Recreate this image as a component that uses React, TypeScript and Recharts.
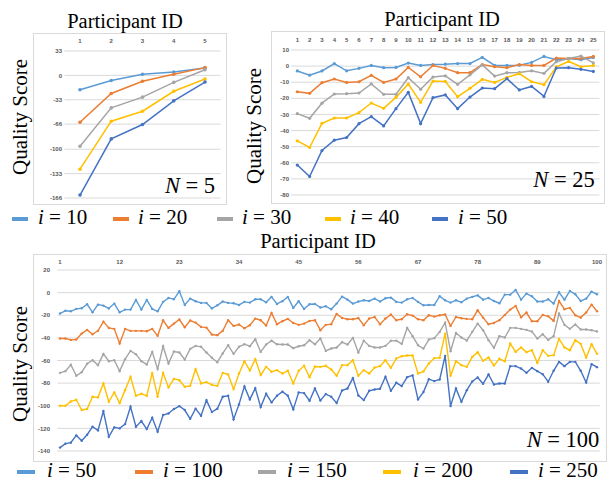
import React from 'react';
import { CartesianGrid, Line, LineChart, XAxis, YAxis } from 'recharts';

// Excel office palette, one colour per iteration count
const COLORS = ['#5B9BD5', '#ED7D31', '#A5A5A5', '#FFC000', '#4472C4'];
const SERIF = '"Liberation Serif", "DejaVu Serif", serif';
const SANS = '"Liberation Sans", Arial, sans-serif';

// ---- N = 5 ----
const n5Ids = [1, 2, 3, 4, 5];
const n5I10 = [-19.5, -7, 1.5, 4.5, 10];
const n5I20 = [-63.5, -24.5, -8, 1.5, 10.5];
const n5I30 = [-96, -44, -29.5, -9.5, 7.7];
const n5I40 = [-127, -62, -48.5, -21.5, -5];
const n5I50 = [-162, -86, -66.5, -34.5, -9];
const n5YTicks = [33, 0, -33, -66, -100, -133, -166];

// ---- N = 25 ----
const n25Ids = Array.from({ length: 25 }, (_, k) => k + 1);
const n25I10 = [-3, -5.6, -3, 1.6, -2.9, -1.4, 0.4, -1, -0.8, 1.9, 0.4, 1, 1.2, 1.6, 1.6, 5.4, 0.4, 0.4, 0.6, 2.3, 6, 4, 4.7, 4, 5.4];
const n25I20 = [-15.9, -16.9, -10.3, -8, -10.1, -9.7, -5.8, -10.1, -8, -0.8, -6.6, 0.4, -1.4, -4.1, -4.1, 1, -0.4, -1, 1, 0.4, 0.4, 5, 4.7, 4.7, 6];
const n25I30 = [-29.5, -32.4, -23, -17.3, -17.1, -16.7, -11, -17.5, -17.5, -7.2, -14.4, -6.8, -6, -11.3, -5.4, 0.8, -6.2, -4.1, -3.9, -2.9, -4.5, 2.7, 4.7, 6.2, 2];
const n25I40 = [-46.4, -50.5, -35.5, -32.2, -32.2, -28.9, -22.9, -26.2, -19.4, -11.1, -22.5, -9.3, -9.5, -19, -13.8, -8.2, -10.1, -7, -4.7, -9.7, -11.5, -0.4, 2.9, -0.4, 0.4];
const n25I50 = [-61.4, -68.5, -52.4, -46, -44.3, -35.7, -31.3, -37.1, -26.4, -16.3, -35.7, -19.6, -17.9, -26.4, -19.2, -13.6, -14, -7.8, -14.8, -12.6, -18.8, -1.2, -1, -2, -3.3];
const n25YTicks = [10, 0, -10, -20, -30, -40, -50, -60, -70, -80];

// ---- N = 100 ----
const n100Ids = Array.from({ length: 100 }, (_, k) => k + 1);
const n100XTicks = [1, 12, 23, 34, 45, 56, 67, 78, 89, 100];
const n100I50 = [
  -18.5, -16, -16.5, -14.4, -13.8, -10.3, -17.4, -10.6, -11.5, -14,
  -9.7, -17.4, -15, -15, -6.5, -15, -6.5, -14.4, -16.5, -8.2,
  -4.7, -5.9, 1.2, -10.9, -5.3, -7.6, -9.1, -9.1, -14, -11.2,
  -7.9, -9.1, -9.4, -10.9, -8.2, -8.8, -5.9, -5.9, -8.5, -3.8,
  -10, -7.6, -3.8, -13.5, -7.6, -14.4, -10.3, -10, -13.2, -12,
  -14.7, -9.7, -3.5, -6.2, -9.7, -7.9, -6.8, -7.4, -5.3, -7.9,
  -5, -4.4, -8.2, -8.8, -5.9, -4.7, -8.2, -11.2, -10.9, -10.9,
  -3.2, -6.8, -8.8, -6.8, -8.5, -5.3, -3.8, -2.4, -6.2, -4.7,
  -7.4, -9.4, -1.8, -1.8, 2.4, -6.2, -0.9, -3.2, -7.9, -7.9,
  -5.9, -9.7, 0.3, -6.2, 1.5, -1.5, -7.4, -5.3, 0.9, -1.5,
];
const n100I100 = [
  -40.6, -40.6, -41.8, -41.5, -36.2, -32.9, -36.8, -33.8, -25.6, -31.2,
  -32, -45, -32, -33.8, -33.8, -33.8, -34.1, -32, -38.2, -24.4,
  -31.2, -27.4, -23.8, -30.6, -24.7, -26.5, -30.3, -30.9, -37, -37.6,
  -33.8, -24.4, -29.4, -28.2, -31.5, -28.8, -23, -24.4, -29.1, -17.9,
  -27.9, -25.3, -23.2, -26.8, -28.5, -27.4, -25, -24.4, -33.2, -28.5,
  -27.9, -18.8, -22.4, -23.5, -23.5, -22.4, -28.8, -22.9, -21.5, -27.9,
  -22.9, -19.4, -24.4, -23.5, -19.1, -20.3, -23.5, -24.4, -20, -21.2,
  -20, -19.4, -29.4, -21.5, -22.6, -23.2, -23.5, -15.6, -22.1, -27.9,
  -26.8, -24.4, -19.7, -15, -11.8, -21.8, -17.6, -25.3, -25.3, -19.7,
  -20.9, -25, -7.4, -14.7, -13.5, -20, -22.1, -17.6, -10.6, -16.5,
];
const n100I150 = [
  -70.9, -69.4, -63.8, -73.5, -70.3, -62.9, -59.7, -64.1, -54.1, -60.6,
  -59.7, -69.4, -58.8, -51.5, -54.4, -60.6, -63.5, -52.4, -67.6, -47.4,
  -62.6, -52.1, -52.9, -59.1, -49.7, -47.1, -47.9, -52.9, -57.6, -61.5,
  -53.8, -46.5, -54.1, -47.9, -45.6, -47.4, -41.2, -52.4, -45.9, -42.4,
  -45.6, -45.9, -45.9, -49.1, -47.4, -46.5, -42, -45.6, -40.6, -51.5,
  -49.4, -48.5, -43.8, -45.9, -40, -52.9, -42.4, -47.1, -48.5, -48.5,
  -47.1, -42.6, -42.4, -45.3, -31.2, -38.5, -46.5, -49.4, -41.5, -40.3,
  -34.7, -26.5, -51.8, -35.6, -39.7, -42.4, -34.7, -27.4, -33.2, -42,
  -48.8, -38.5, -39.7, -31.2, -31.2, -32, -32.9, -34.4, -40.6, -36.8,
  -41.8, -38.5, -18.5, -28.5, -32, -28.2, -32.6, -32.6, -33.2, -34.4,
];
const n100I200 = [
  -100, -100, -96.2, -94.7, -103.8, -102.9, -92, -92.6, -80.3, -96.5,
  -88.2, -97.6, -86.2, -74.4, -91.2, -89.4, -91.2, -70.9, -92, -70.9,
  -83.8, -76.2, -77.4, -83.2, -82.4, -67.6, -80.3, -79.1, -81.5, -82.4,
  -70.9, -72.4, -85.3, -71.5, -60.6, -68.8, -58.8, -72.9, -65.6, -70,
  -68.5, -71.5, -69.1, -80.3, -69.1, -64.7, -74.7, -65.3, -65.6, -64.7,
  -67.9, -73.5, -64.1, -64.1, -59.7, -73.5, -68.5, -71.5, -66.2, -65,
  -59.7, -66.5, -58.2, -56.2, -55.6, -55.6, -71.5, -69.7, -62.6, -57.9,
  -57.6, -36.2, -73.5, -60.6, -64.1, -65.6, -56.8, -52.6, -60.3, -57.4,
  -64.4, -58.5, -60.6, -45, -52.4, -48.5, -52.6, -50.9, -62.1, -50.9,
  -55.9, -55.3, -40.9, -48.5, -50.9, -42, -45.3, -57.4, -45.6, -54.1,
];
const n100I250 = [
  -137, -133.5, -132.6, -126.2, -130.9, -125.6, -118.5, -121.8, -104.7, -127.4,
  -119.1, -120, -116.2, -100.9, -118.5, -113.5, -120.6, -110.6, -123, -108.2,
  -106.8, -102.9, -100.3, -103.8, -111.5, -102.6, -108.8, -95, -105.6, -102.6,
  -92, -91.2, -112, -98.8, -82.9, -94.4, -84.4, -101.2, -89.4, -97,
  -91.2, -87.6, -91.2, -103.2, -88.2, -88.8, -95.6, -84.7, -95.3, -89.7,
  -92, -97.6, -86.5, -84.7, -75.6, -90.9, -95, -86.8, -85.6, -85,
  -74.4, -86.8, -79.7, -82.6, -74.7, -73.2, -94.4, -87.9, -76.5, -78.2,
  -76.8, -55.9, -100.3, -84.7, -96.5, -86.2, -78.5, -75, -80.6, -72.4,
  -81.2, -80.3, -80.3, -65, -65, -67.1, -70.9, -66.5, -69.4, -72.1,
  -78.8, -69.1, -61.2, -65, -61.2, -61.2, -69.1, -79.4, -63.2, -65.9,
];
const n100YTicks = [20, 0, -20, -40, -60, -80, -100, -120, -140];

const topLegend = ['10', '20', '30', '40', '50'];
const bottomLegend = ['50', '100', '150', '200', '250'];

type Box = { left: number; top: number; width: number; height: number };

interface PanelProps {
  box: Box;
  x1: number; // pixel of first id
  xN: number; // pixel of last id
  yTop: number;
  yBottom: number;
  xLabelY: number;
  yLabelRight: number;
  ids: number[];
  series: number[][];
  xTicks: number[];
  yTicks: number[];
  dotR: number;
  lineW: number;
  tickFont: number;
}

function Panel(p: PanelProps) {
  const n = p.ids.length;
  const step = (p.xN - p.x1) / (n - 1);
  const plotLeft = p.x1 - step / 2;
  const plotRight = p.xN + step / 2;
  const rows = p.ids.map((id, k) => {
    const row: Record<string, number> = { id };
    p.series.forEach((s, j) => (row['s' + j] = s[k]));
    return row;
  });
  const yAxisW = plotLeft - p.box.left;
  const xAxisH = p.yTop - p.box.top;
  const baseline = p.xLabelY + p.tickFont * 0.35;
  const tick = { fontSize: p.tickFont, fill: '#595959', fontFamily: SANS, fontWeight: 700 };

  return (
    <>
      <div
        style={{
          position: 'absolute',
          left: p.box.left,
          top: p.box.top,
          width: p.box.width,
          height: p.box.height,
          border: '1px solid #D9D9D9',
          boxSizing: 'border-box',
        }}
      />
      <div style={{ position: 'absolute', left: p.box.left, top: p.box.top }}>
        <LineChart
          width={p.box.width}
          height={p.box.height}
          data={rows}
          margin={{
            left: 0,
            top: 0,
            right: p.box.left + p.box.width - plotRight,
            bottom: p.box.top + p.box.height - p.yBottom,
          }}
        >
          <CartesianGrid vertical={false} stroke="#D9D9D9" />
          <XAxis
            dataKey="id"
            type="number"
            orientation="top"
            domain={[0.5, n + 0.5]}
            ticks={p.xTicks}
            interval={0}
            height={xAxisH}
            axisLine={false}
            tickLine={false}
            tickSize={0}
            tickMargin={p.yTop - baseline}
            tick={tick}
          />
          <YAxis
            type="number"
            domain={[p.yTicks[p.yTicks.length - 1], p.yTicks[0]]}
            ticks={p.yTicks}
            interval={0}
            width={yAxisW}
            axisLine={false}
            tickLine={false}
            tickSize={0}
            tickMargin={plotLeft - p.yLabelRight}
            tick={tick}
          />
          {p.series.map((_, j) => (
            <Line
              key={j}
              dataKey={'s' + j}
              stroke={COLORS[j]}
              strokeWidth={p.lineW}
              dot={{ r: p.dotR, fill: COLORS[j], stroke: COLORS[j], strokeWidth: 0 }}
              isAnimationActive={false}
            />
          ))}
        </LineChart>
      </div>
    </>
  );
}

function Txt({ cx, cy, size, rotate, children }: { cx: number; cy: number; size: number; rotate?: boolean; children: React.ReactNode }) {
  return (
    <div
      style={{
        position: 'absolute',
        left: cx,
        top: cy,
        transform: `translate(-50%, -50%)${rotate ? ' rotate(-90deg)' : ''}`,
        fontFamily: SERIF,
        fontSize: size,
        lineHeight: 1,
        whiteSpace: 'nowrap',
        color: '#000',
      }}
    >
      {children}
    </div>
  );
}

function Legend({ labels, swatchX, textX, cy, size, swW, swH }: { labels: string[]; swatchX: number[]; textX: number[]; cy: number; size: number; swW: number; swH: number }) {
  return (
    <>
      {labels.map((lab, k) => (
        <React.Fragment key={lab}>
          <div style={{ position: 'absolute', left: swatchX[k], top: cy - swH / 2, width: swW, height: swH, background: COLORS[k] }} />
          <div
            style={{
              position: 'absolute',
              left: textX[k],
              top: cy - size * 0.55,
              fontFamily: SERIF,
              fontSize: size,
              lineHeight: 1,
              whiteSpace: 'nowrap',
            }}
          >
            <i>i</i> = {lab}
          </div>
        </React.Fragment>
      ))}
    </>
  );
}

export default function App() {
  return (
    <div style={{ position: 'absolute', left: 0, top: 0, width: 613, height: 482, background: '#fff', overflow: 'hidden' }}>
      <Panel
        box={{ left: 33, top: 33, width: 194, height: 172 }}
        x1={80}
        xN={205}
        yTop={51}
        yBottom={198}
        xLabelY={41}
        yLabelRight={62}
        ids={n5Ids}
        series={[n5I10, n5I20, n5I30, n5I40, n5I50]}
        xTicks={n5Ids}
        yTicks={n5YTicks}
        dotR={1.8}
        lineW={1.5}
        tickFont={6}
      />
      <Panel
        box={{ left: 271, top: 31, width: 334, height: 173 }}
        x1={297.3}
        xN={593.3}
        yTop={50}
        yBottom={195}
        xLabelY={40}
        yLabelRight={289}
        ids={n25Ids}
        series={[n25I10, n25I20, n25I30, n25I40, n25I50]}
        xTicks={n25Ids}
        yTicks={n25YTicks}
        dotR={1.6}
        lineW={1.5}
        tickFont={6}
      />
      <Panel
        box={{ left: 33, top: 254, width: 574, height: 208 }}
        x1={60}
        xN={597}
        yTop={270}
        yBottom={451}
        xLabelY={262}
        yLabelRight={50}
        ids={n100Ids}
        series={[n100I50, n100I100, n100I150, n100I200, n100I250]}
        xTicks={n100XTicks}
        yTicks={n100YTicks}
        dotR={1.2}
        lineW={1.4}
        tickFont={6}
      />

      <Txt cx={125} cy={21} size={20.5}>Participant ID</Txt>
      <Txt cx={442} cy={19} size={20.5}>Participant ID</Txt>
      <Txt cx={318} cy={241} size={20.5}>Participant ID</Txt>

      <Txt cx={20} cy={117} size={21} rotate>Quality Score</Txt>
      <Txt cx={254} cy={126} size={21} rotate>Quality Score</Txt>
      <Txt cx={20} cy={364} size={21} rotate>Quality Score</Txt>

      <Txt cx={190} cy={186} size={22.5}><i>N</i> = 5</Txt>
      <Txt cx={564} cy={180} size={22.5}><i>N</i> = 25</Txt>
      <Txt cx={563} cy={440} size={22.5}><i>N</i> = 100</Txt>

      <Legend labels={topLegend} swatchX={[12, 113, 217, 325, 432]} textX={[38, 138, 242, 350, 458]} cy={219} size={21} swW={16} swH={4} />
      <Legend labels={bottomLegend} swatchX={[17, 135, 258, 383, 510]} textX={[47, 163, 287, 413, 538]} cy={472} size={21} swW={18} swH={4} />
    </div>
  );
}
